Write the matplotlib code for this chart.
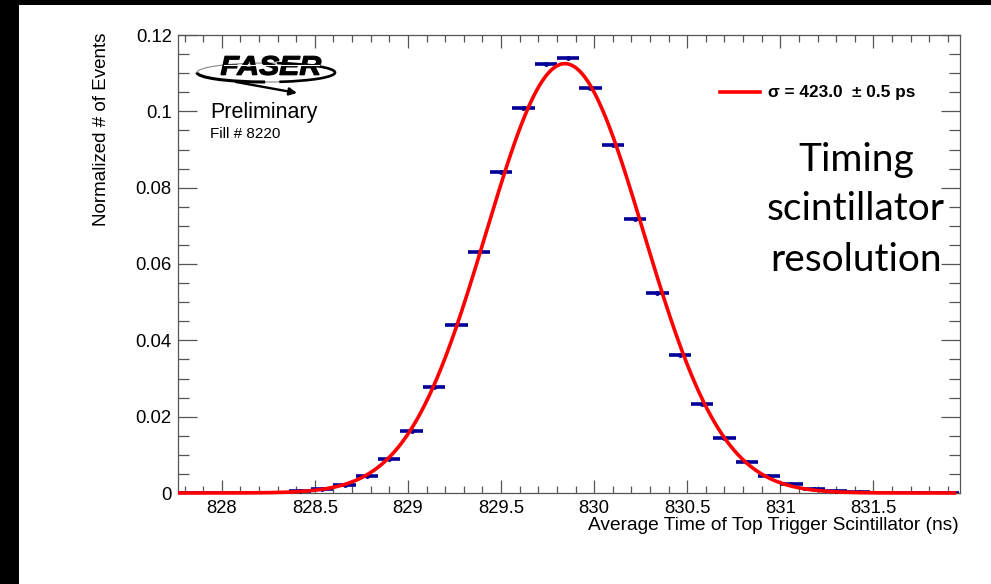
import numpy as np
import matplotlib
matplotlib.use("Agg")
import matplotlib.pyplot as plt
from matplotlib.patches import Ellipse, Arc, Rectangle, FancyArrowPatch, PathPatch
from matplotlib.ticker import MultipleLocator, FuncFormatter
from matplotlib.textpath import TextPath
from matplotlib.font_manager import FontProperties
from matplotlib.transforms import Affine2D

# ---- histogram: average time of top trigger scintillator, 35 bins of 0.12 ns ----
bin_low_edge = 827.76
bin_width = 0.12
fractions = [0.00001, 0.00001, 0.00002, 0.00004, 0.0001, 0.00044, 0.00105, 0.0021,
             0.00445, 0.0088, 0.0162, 0.0277, 0.0439, 0.0632, 0.0840, 0.1009,
             0.1125, 0.1141, 0.1062, 0.0911, 0.0717, 0.0523, 0.0362, 0.0232,
             0.0144, 0.0081, 0.0044, 0.0024, 0.00105, 0.00044, 0.0002, 0.0001,
             0.00005, 0.00002, 0.00001]

# ---- Gaussian fit result ----
fit_mean_ns = 829.843
fit_sigma_ps = 423.0
fit_sigma_err_ps = 0.5
fit_amplitude = 0.1125

x_range = (827.765, 831.965)
y_range = (0.0, 0.12)

W, H = 991, 584
fig = plt.figure(figsize=(W / 100, H / 100), dpi=100)
fig.patch.set_facecolor("white")

left, right, top, bottom = 178, 960, 35, 493
ax = fig.add_axes([left / W, 1 - bottom / H, (right - left) / W, (bottom - top) / H])

font = "Liberation Sans"
hist_color = "#000099"
axis_color = "#555555"

centers = bin_low_edge + bin_width * (np.arange(len(fractions)) + 0.5)
ax.errorbar(centers, fractions, xerr=bin_width / 2, fmt="o", ms=2.5,
            color=hist_color, ecolor=hist_color, elinewidth=2.6, capsize=0,
            zorder=3, clip_on=True)

sigma_ns = fit_sigma_ps / 1000.0
xs = np.linspace(x_range[0], x_range[1] - 0.02, 600)
ys = fit_amplitude * np.exp(-0.5 * ((xs - fit_mean_ns) / sigma_ns) ** 2)
ax.plot(xs, ys, color="red", lw=2.6, zorder=4, clip_on=False, solid_capstyle="butt")

ax.set_xlim(*x_range)
ax.set_ylim(*y_range)

ax.xaxis.set_major_locator(MultipleLocator(0.5))
ax.xaxis.set_minor_locator(MultipleLocator(0.1))
ax.yaxis.set_major_locator(MultipleLocator(0.02))
ax.yaxis.set_minor_locator(MultipleLocator(0.005))
ax.xaxis.set_major_formatter(FuncFormatter(lambda v, p: f"{v:g}"))
ax.yaxis.set_major_formatter(FuncFormatter(lambda v, p: f"{v:g}"))

ax.tick_params(axis="both", which="both", direction="in", top=True, right=True,
               color=axis_color, width=0.9, labelsize=13.3)
ax.tick_params(axis="x", which="major", length=9.5, pad=5.0)
ax.tick_params(axis="x", which="minor", length=5)
ax.tick_params(axis="y", which="major", length=14, pad=4.5)
ax.tick_params(axis="y", which="minor", length=8)
for lab in ax.get_xticklabels() + ax.get_yticklabels():
    lab.set_fontfamily(font)
for s in ax.spines.values():
    s.set_color(axis_color)
    s.set_linewidth(0.9)

# axis titles, ROOT style (aligned to the axis ends)
fig.text(959 / W, 1 - 525 / H, "Average Time of Top Trigger Scintillator (ns)",
         ha="right", va="center", fontsize=13.8, family=font)
fig.text(101 / W, 1 - 33 / H, "Normalized # of Events", rotation=90,
         ha="center", va="top", fontsize=13.5, family=font)

# ---- overlay in pixel coordinates for logo, legend and annotations ----
ov = fig.add_axes([0, 0, 1, 1], zorder=10)
ov.set_xlim(0, W)
ov.set_ylim(H, 0)
ov.axis("off")
ov.patch.set_alpha(0)

# frame bands
ov.add_patch(Rectangle((0, 0), W, 4.7, color="black", lw=0))
ov.add_patch(Rectangle((0, 0), 18.7, H, color="black", lw=0))

# FASER logo: ellipse swoosh, arrow and wide italic lettering
ov.add_patch(Ellipse((266, 72.5), 138, 19, fill=False, ec="#888888", lw=0.8))
ov.add_patch(Arc((266, 72.5), 138, 19, theta1=95, theta2=180, color="black", lw=2.2))
ov.add_patch(Arc((266, 72.5), 138, 19, theta1=-40, theta2=35, color="black", lw=1.9))
ov.add_patch(FancyArrowPatch((236, 82), (297, 93), arrowstyle="-|>", mutation_scale=11,
                             color="black", lw=1.7, shrinkA=0, shrinkB=0))
logo_path = TextPath((0, 0), "FASER", size=1,
                     prop=FontProperties(family=font, weight="bold", style="italic"))
ext = logo_path.get_extents()
logo_tf = (Affine2D().translate(-ext.x0, -ext.y0)
           .scale(100 / ext.width, -19 / ext.height).translate(221, 75))
ov.add_patch(PathPatch(logo_tf.transform_path(logo_path), fc="black", ec="black", lw=0.9))
ov.plot([224, 319], [65.3, 65.3], color="white", lw=0.8)

ov.text(210, 118, "Preliminary", fontsize=15.5, family=font, ha="left", va="baseline")
ov.text(210, 138, "Fill # 8220", fontsize=11, family=font, ha="left", va="baseline")

# fit legend
ov.plot([720, 760], [92, 92], color="red", lw=2.6)
ov.text(768, 92, f"σ = {fit_sigma_ps:.1f}  ± {fit_sigma_err_ps:.1f} ps", fontsize=12.4,
        fontweight="bold", family=font, ha="left", va="center")

# annotation
big = "Lato"
ov.text(856, 171, "Timing", fontsize=28, family=big, ha="center", va="baseline")
ov.text(856, 220, "scintillator", fontsize=28, family=big, ha="center", va="baseline")
ov.text(856, 271, "resolution", fontsize=28, family=big, ha="center", va="baseline")

fig.savefig("out.png", dpi=100, facecolor="white")
